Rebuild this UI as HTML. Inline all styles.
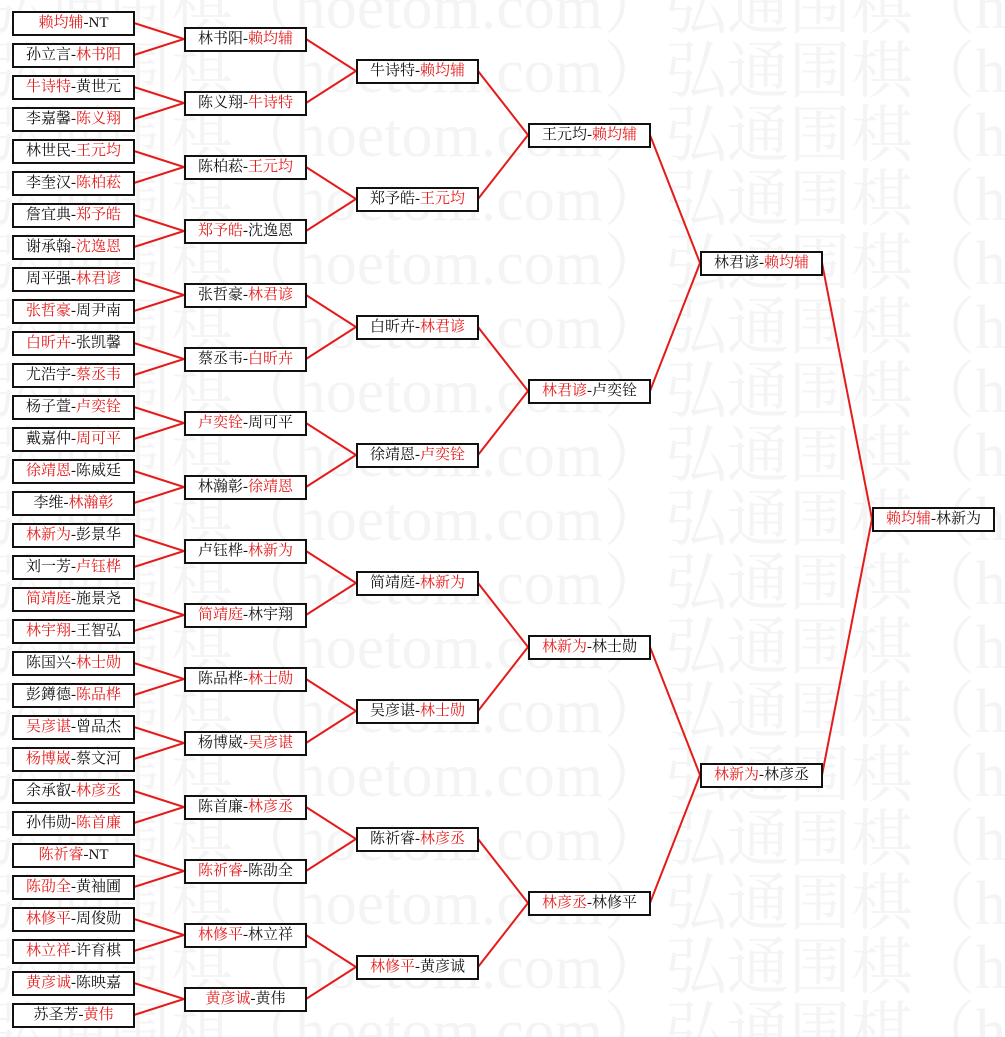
<!DOCTYPE html>
<html><head><meta charset="utf-8">
<style>
html,body{margin:0;padding:0;background:#fff;}
body{width:1005px;height:1037px;position:relative;overflow:hidden;font-family:"Liberation Serif","Noto Serif CJK SC","Noto Sans CJK SC",serif;}
svg{position:absolute;left:0;top:0;}
.b{position:absolute;width:123px;height:25px;box-sizing:border-box;border:2px solid #111;background:#fff;font-size:15px;line-height:21px;text-align:center;color:#111;white-space:nowrap;}
.r{color:#e41b1b;}
.c1{left:12px}.c2{left:184px}.c3{left:356px}.c4{left:528px}.c5{left:700px}.c6{left:872px}
</style></head><body>
<svg width="1005" height="1037" style="z-index:0">
<g font-family="Liberation Serif, Noto Serif CJK SC, serif" font-size="62" fill="#f4f4f4">
<text x="665" y="28" text-anchor="end">弘通围棋（hoetom.com）</text><text x="665" y="28">弘通围棋（hoetom.com）</text>
<text x="665" y="92" text-anchor="end">弘通围棋（hoetom.com）</text><text x="665" y="92">弘通围棋（hoetom.com）</text>
<text x="665" y="156" text-anchor="end">弘通围棋（hoetom.com）</text><text x="665" y="156">弘通围棋（hoetom.com）</text>
<text x="665" y="220" text-anchor="end">弘通围棋（hoetom.com）</text><text x="665" y="220">弘通围棋（hoetom.com）</text>
<text x="665" y="284" text-anchor="end">弘通围棋（hoetom.com）</text><text x="665" y="284">弘通围棋（hoetom.com）</text>
<text x="665" y="348" text-anchor="end">弘通围棋（hoetom.com）</text><text x="665" y="348">弘通围棋（hoetom.com）</text>
<text x="665" y="412" text-anchor="end">弘通围棋（hoetom.com）</text><text x="665" y="412">弘通围棋（hoetom.com）</text>
<text x="665" y="476" text-anchor="end">弘通围棋（hoetom.com）</text><text x="665" y="476">弘通围棋（hoetom.com）</text>
<text x="665" y="540" text-anchor="end">弘通围棋（hoetom.com）</text><text x="665" y="540">弘通围棋（hoetom.com）</text>
<text x="665" y="604" text-anchor="end">弘通围棋（hoetom.com）</text><text x="665" y="604">弘通围棋（hoetom.com）</text>
<text x="665" y="668" text-anchor="end">弘通围棋（hoetom.com）</text><text x="665" y="668">弘通围棋（hoetom.com）</text>
<text x="665" y="732" text-anchor="end">弘通围棋（hoetom.com）</text><text x="665" y="732">弘通围棋（hoetom.com）</text>
<text x="665" y="796" text-anchor="end">弘通围棋（hoetom.com）</text><text x="665" y="796">弘通围棋（hoetom.com）</text>
<text x="665" y="860" text-anchor="end">弘通围棋（hoetom.com）</text><text x="665" y="860">弘通围棋（hoetom.com）</text>
<text x="665" y="924" text-anchor="end">弘通围棋（hoetom.com）</text><text x="665" y="924">弘通围棋（hoetom.com）</text>
<text x="665" y="988" text-anchor="end">弘通围棋（hoetom.com）</text><text x="665" y="988">弘通围棋（hoetom.com）</text>
<text x="665" y="1052" text-anchor="end">弘通围棋（hoetom.com）</text><text x="665" y="1052">弘通围棋（hoetom.com）</text>
</g>
<g fill="none" stroke="#e41b1b" stroke-width="2">
<polyline points="134,23 184,39 134,55"/><polyline points="134,87 184,103 134,119"/><polyline points="134,151 184,167 134,183"/><polyline points="134,215 184,231 134,247"/>
<polyline points="134,279 184,295 134,311"/><polyline points="134,343 184,359 134,375"/><polyline points="134,407 184,423 134,439"/><polyline points="134,471 184,487 134,503"/>
<polyline points="134,535 184,551 134,567"/><polyline points="134,599 184,615 134,631"/><polyline points="134,663 184,679 134,695"/><polyline points="134,727 184,743 134,759"/>
<polyline points="134,791 184,807 134,823"/><polyline points="134,855 184,871 134,887"/><polyline points="134,919 184,935 134,951"/><polyline points="134,983 184,999 134,1015"/>
<polyline points="306,39 356,71 306,103"/><polyline points="306,167 356,199 306,231"/><polyline points="306,295 356,327 306,359"/><polyline points="306,423 356,455 306,487"/>
<polyline points="306,551 356,583 306,615"/><polyline points="306,679 356,711 306,743"/><polyline points="306,807 356,839 306,871"/><polyline points="306,935 356,967 306,999"/>
<polyline points="478,71 528,135 478,199"/><polyline points="478,327 528,391 478,455"/><polyline points="478,583 528,647 478,711"/><polyline points="478,839 528,903 478,967"/>
<polyline points="650,135 700,263 650,391"/><polyline points="650,647 700,775 650,903"/>
<polyline points="822,263 872,519 822,775"/>
</g>
</svg>
<div class="b c1" style="top:11px"><span class="r">赖均辅</span>-NT</div>
<div class="b c1" style="top:43px">孙立言-<span class="r">林书阳</span></div>
<div class="b c1" style="top:75px"><span class="r">牛诗特</span>-黄世元</div>
<div class="b c1" style="top:107px">李嘉馨-<span class="r">陈义翔</span></div>
<div class="b c1" style="top:139px">林世民-<span class="r">王元均</span></div>
<div class="b c1" style="top:171px">李奎汉-<span class="r">陈柏菘</span></div>
<div class="b c1" style="top:203px">詹宜典-<span class="r">郑予皓</span></div>
<div class="b c1" style="top:235px">谢承翰-<span class="r">沈逸恩</span></div>
<div class="b c1" style="top:267px">周平强-<span class="r">林君谚</span></div>
<div class="b c1" style="top:299px"><span class="r">张哲豪</span>-周尹南</div>
<div class="b c1" style="top:331px"><span class="r">白昕卉</span>-张凯馨</div>
<div class="b c1" style="top:363px">尤浩宇-<span class="r">蔡丞韦</span></div>
<div class="b c1" style="top:395px">杨子萱-<span class="r">卢奕铨</span></div>
<div class="b c1" style="top:427px">戴嘉仲-<span class="r">周可平</span></div>
<div class="b c1" style="top:459px"><span class="r">徐靖恩</span>-陈威廷</div>
<div class="b c1" style="top:491px">李维-<span class="r">林瀚彰</span></div>
<div class="b c1" style="top:523px"><span class="r">林新为</span>-彭景华</div>
<div class="b c1" style="top:555px">刘一芳-<span class="r">卢钰桦</span></div>
<div class="b c1" style="top:587px"><span class="r">简靖庭</span>-施景尧</div>
<div class="b c1" style="top:619px"><span class="r">林宇翔</span>-王智弘</div>
<div class="b c1" style="top:651px">陈国兴-<span class="r">林士勋</span></div>
<div class="b c1" style="top:683px">彭鐏德-<span class="r">陈品桦</span></div>
<div class="b c1" style="top:715px"><span class="r">吴彦谌</span>-曾品杰</div>
<div class="b c1" style="top:747px"><span class="r">杨博崴</span>-蔡文河</div>
<div class="b c1" style="top:779px">余承叡-<span class="r">林彦丞</span></div>
<div class="b c1" style="top:811px">孙伟勋-<span class="r">陈首廉</span></div>
<div class="b c1" style="top:843px"><span class="r">陈祈睿</span>-NT</div>
<div class="b c1" style="top:875px"><span class="r">陈劭全</span>-黄袖圃</div>
<div class="b c1" style="top:907px"><span class="r">林修平</span>-周俊勋</div>
<div class="b c1" style="top:939px"><span class="r">林立祥</span>-许育棋</div>
<div class="b c1" style="top:971px"><span class="r">黄彦诚</span>-陈映嘉</div>
<div class="b c1" style="top:1003px">苏圣芳-<span class="r">黄伟</span></div>

<div class="b c2" style="top:27px">林书阳-<span class="r">赖均辅</span></div>
<div class="b c2" style="top:91px">陈义翔-<span class="r">牛诗特</span></div>
<div class="b c2" style="top:155px">陈柏菘-<span class="r">王元均</span></div>
<div class="b c2" style="top:219px"><span class="r">郑予皓</span>-沈逸恩</div>
<div class="b c2" style="top:283px">张哲豪-<span class="r">林君谚</span></div>
<div class="b c2" style="top:347px">蔡丞韦-<span class="r">白昕卉</span></div>
<div class="b c2" style="top:411px"><span class="r">卢奕铨</span>-周可平</div>
<div class="b c2" style="top:475px">林瀚彰-<span class="r">徐靖恩</span></div>
<div class="b c2" style="top:539px">卢钰桦-<span class="r">林新为</span></div>
<div class="b c2" style="top:603px"><span class="r">简靖庭</span>-林宇翔</div>
<div class="b c2" style="top:667px">陈品桦-<span class="r">林士勋</span></div>
<div class="b c2" style="top:731px">杨博崴-<span class="r">吴彦谌</span></div>
<div class="b c2" style="top:795px">陈首廉-<span class="r">林彦丞</span></div>
<div class="b c2" style="top:859px"><span class="r">陈祈睿</span>-陈劭全</div>
<div class="b c2" style="top:923px"><span class="r">林修平</span>-林立祥</div>
<div class="b c2" style="top:987px"><span class="r">黄彦诚</span>-黄伟</div>

<div class="b c3" style="top:59px">牛诗特-<span class="r">赖均辅</span></div>
<div class="b c3" style="top:187px">郑予皓-<span class="r">王元均</span></div>
<div class="b c3" style="top:315px">白昕卉-<span class="r">林君谚</span></div>
<div class="b c3" style="top:443px">徐靖恩-<span class="r">卢奕铨</span></div>
<div class="b c3" style="top:571px">简靖庭-<span class="r">林新为</span></div>
<div class="b c3" style="top:699px">吴彦谌-<span class="r">林士勋</span></div>
<div class="b c3" style="top:827px">陈祈睿-<span class="r">林彦丞</span></div>
<div class="b c3" style="top:955px"><span class="r">林修平</span>-黄彦诚</div>

<div class="b c4" style="top:123px">王元均-<span class="r">赖均辅</span></div>
<div class="b c4" style="top:379px"><span class="r">林君谚</span>-卢奕铨</div>
<div class="b c4" style="top:635px"><span class="r">林新为</span>-林士勋</div>
<div class="b c4" style="top:891px"><span class="r">林彦丞</span>-林修平</div>

<div class="b c5" style="top:251px">林君谚-<span class="r">赖均辅</span></div>
<div class="b c5" style="top:763px"><span class="r">林新为</span>-林彦丞</div>

<div class="b c6" style="top:507px"><span class="r">赖均辅</span>-林新为</div>
</body></html>
